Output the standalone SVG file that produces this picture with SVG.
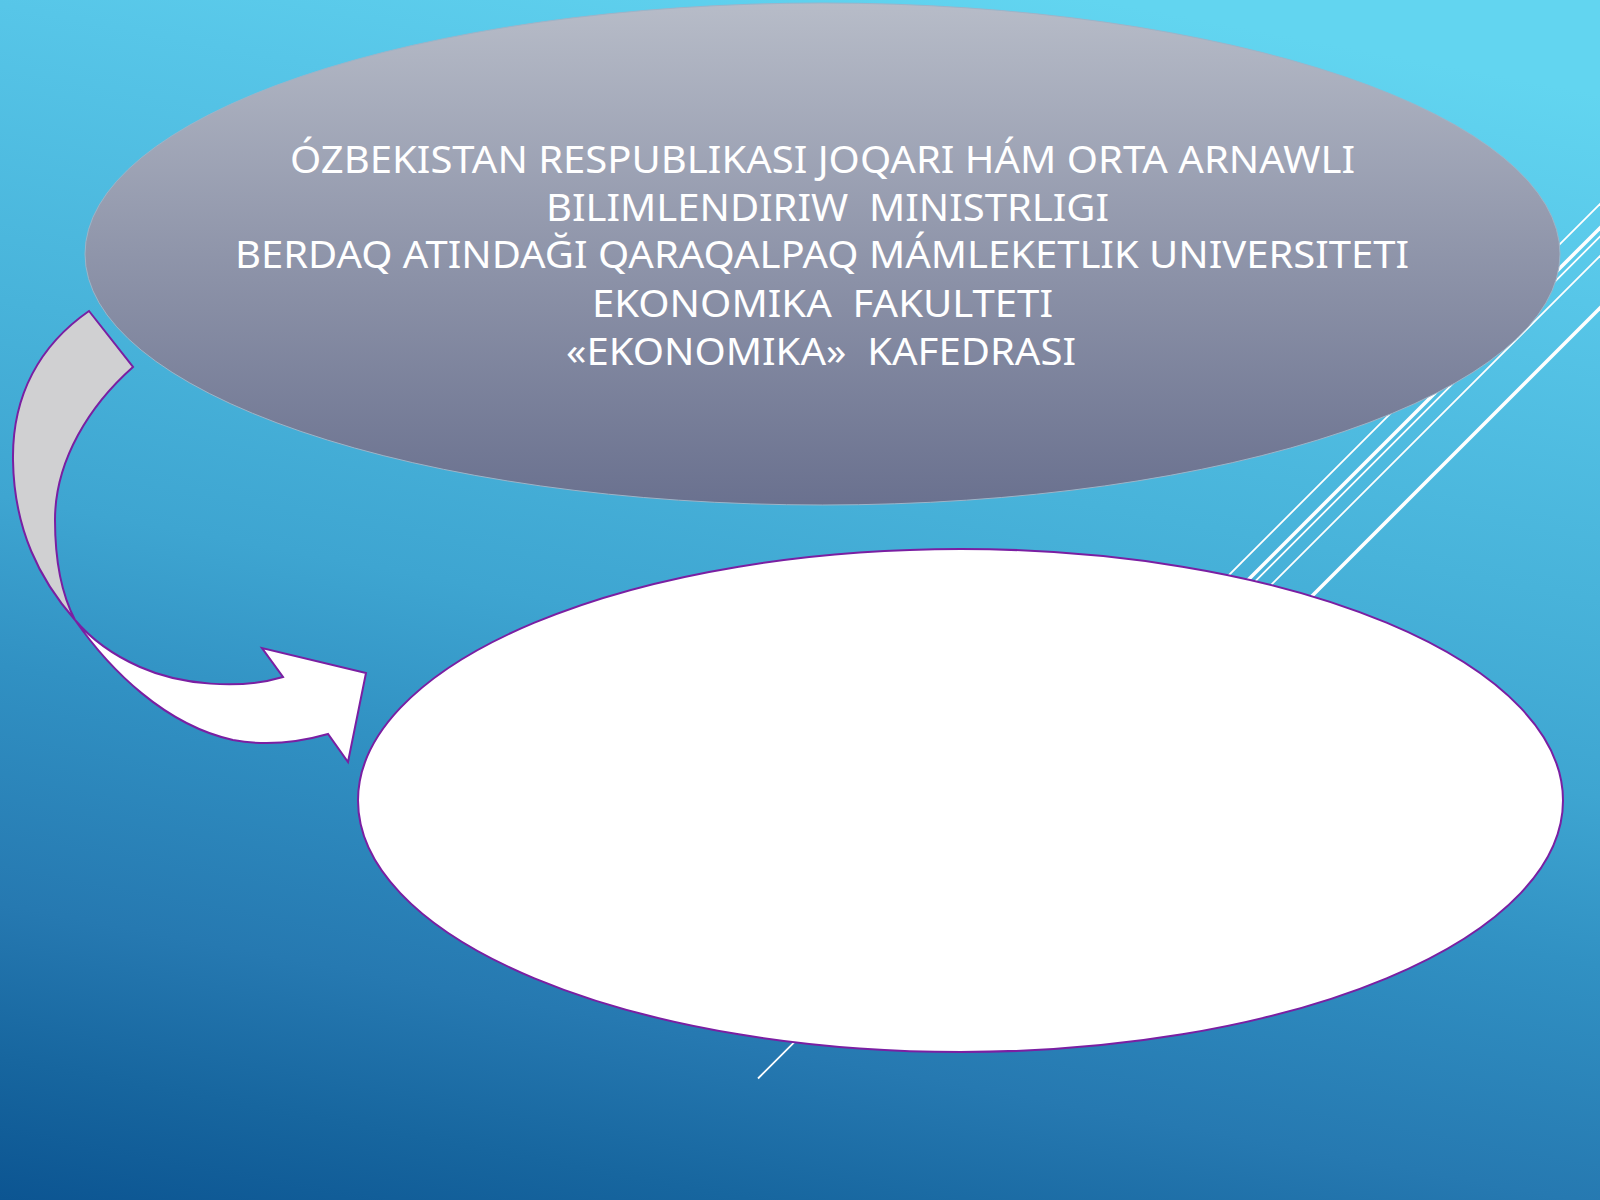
<svg xmlns="http://www.w3.org/2000/svg" width="1600" height="1200" viewBox="0 0 1600 1200">
  <defs>
    <linearGradient id="bg" gradientUnits="userSpaceOnUse" x1="1100" y1="0" x2="845" y2="1358">
      <stop offset="0" stop-color="#62d5f0"/>
      <stop offset="0.15" stop-color="#57c6e8"/>
      <stop offset="0.36" stop-color="#48b3da"/>
      <stop offset="0.5" stop-color="#3ea5d1"/>
      <stop offset="0.62" stop-color="#3191c3"/>
      <stop offset="0.79" stop-color="#2679b1"/>
      <stop offset="0.9" stop-color="#17669f"/>
      <stop offset="1" stop-color="#0c5592"/>
    </linearGradient>
    <linearGradient id="topfill" x1="0" y1="0" x2="0" y2="1">
      <stop offset="0" stop-color="#b7bcc8"/>
      <stop offset="0.5" stop-color="#8f95aa"/>
      <stop offset="1" stop-color="#6a718f"/>
    </linearGradient>
    <style>
      .deco { stroke: #ffffff; fill: none; stroke-linecap: butt; }
      .thin { stroke-width: 1.8; }
      .thick { stroke-width: 3.6; }
      .title { font-family: "Noto Sans", "Open Sans", "DejaVu Sans", sans-serif; font-size: 37.5px; fill: #ffffff; white-space: pre; }
      .arrow { stroke: #7a1fa2; stroke-width: 2; stroke-linejoin: miter; }
    </style>
  </defs>

  <rect x="0" y="0" width="1600" height="1200" fill="url(#bg)"/>

  <g id="deco-lines">
    <line class="deco thin" x1="1150" y1="654" x2="1640" y2="164"/>
    <line class="deco thick" x1="1150" y1="678" x2="1660" y2="168"/>
    <line class="deco thin" x1="758" y1="1078.5" x2="1660" y2="176.5"/>
    <line class="deco thin" x1="1150" y1="706" x2="1660" y2="196"/>
    <line class="deco thick" x1="1200" y1="708" x2="1660" y2="248"/>
  </g>

  <g id="node-top">
    <ellipse cx="822.5" cy="254" rx="737.5" ry="251" fill="url(#topfill)" stroke="#9db4c8" stroke-width="1"/>
    <text class="title" x="290" y="173.3" textLength="1065" lengthAdjust="spacingAndGlyphs">ÓZBEKISTAN RESPUBLIKASI JOQARI HÁM ORTA ARNAWLI</text>
    <text class="title" x="546" y="220.7" textLength="563" lengthAdjust="spacingAndGlyphs">BILIMLENDIRIW  MINISTRLIGI</text>
    <text class="title" x="235" y="268.3" textLength="1174" lengthAdjust="spacingAndGlyphs">BERDAQ ATINDAĞI QARAQALPAQ MÁMLEKETLIK UNIVERSITETI</text>
    <text class="title" x="592" y="316.7" textLength="461" lengthAdjust="spacingAndGlyphs">EKONOMIKA  FAKULTETI</text>
    <text class="title" x="566" y="365" textLength="510" lengthAdjust="spacingAndGlyphs">«EKONOMIKA»  KAFEDRASI</text>
  </g>

  <g id="node-bottom">
    <ellipse cx="960.5" cy="800.5" rx="602.5" ry="251.5" fill="#ffffff" stroke="#7a1fa2" stroke-width="2"/>
  </g>

  <g id="connectors">
    <path class="arrow" fill="#d0d0d2" d="M 89,311 L 133,367 C 90,405 55,460 55,520 C 55,560 62,595 75,620 C 40,580 14,530 13,460 C 12,395 40,345 89,311 Z"/>
    <path class="arrow" fill="#ffffff" d="M 75,620 C 110,670 165,725 233,740 C 265,746 300,742 328,734 L 348,762 L 366,673 L 262,648 L 283,677 C 240,690 180,685 140,667 C 115,656 92,640 75,620 Z"/>
  </g>
</svg>
